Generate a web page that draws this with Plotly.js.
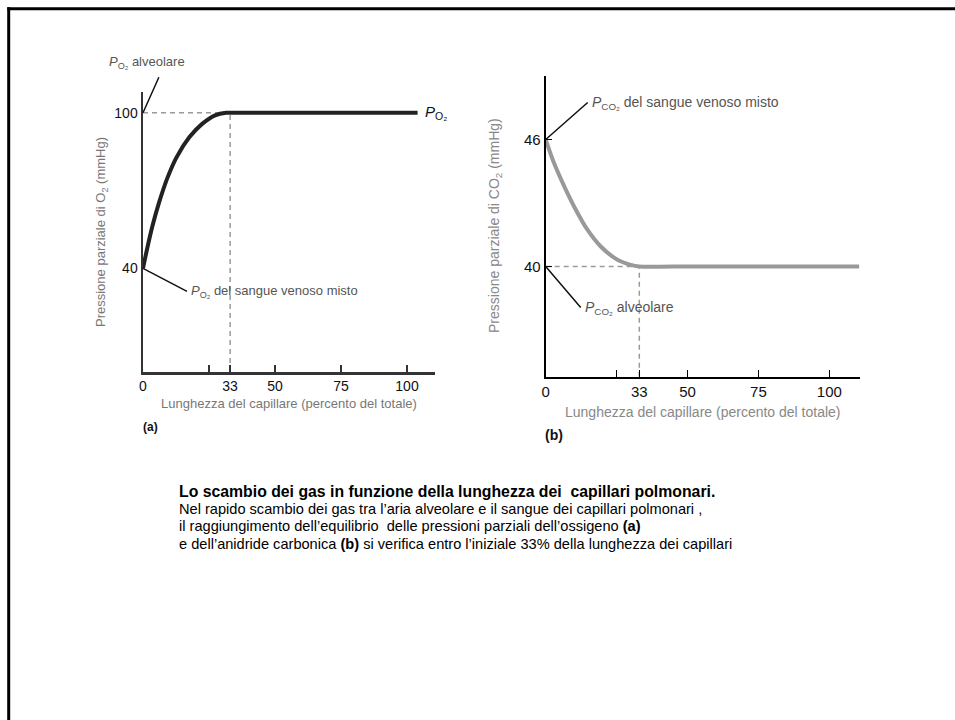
<!DOCTYPE html>
<html>
<head>
<meta charset="utf-8">
<script src="https://cdn.plot.ly/plotly-3.0.1.min.js"></script>
<style>
html,body{margin:0;padding:0;background:#fff;}
#chart{width:955px;height:720px;}
</style>
</head>
<body>
<div id="chart"></div>
<script>
// ---- Data ----
// (a) O2 partial pressure along the capillary
const o2X = [0, 1.8, 3.6, 6.1, 9.1, 12.7, 17.6, 22.4, 27.3, 31.5, 33, 45, 104];
const o2Y = [40, 48.6, 56.4, 65.4, 74.5, 82.8, 90.6, 95.7, 99, 100, 100, 100, 100];
// (b) CO2 partial pressure along the capillary
const co2X = [0, 2.9, 6.5, 10, 14.7, 19.4, 25.3, 30, 33, 45, 110.5];
const co2Y = [46, 44.9, 43.8, 42.84, 41.74, 40.95, 40.32, 40.08, 40, 40, 40];

const equilibX = 33;          // % of capillary length where equilibrium is reached
const o2Alveolar = 100, o2Venous = 40;
const co2Venous = 46, co2Alveolar = 40;

const xTickVals = [0, 33, 50, 75, 100];
const xTickText = ['0', '33', '50', '75', '100'];
const xMinorTicks = [25];
const o2TickVals = [40, 100];
const co2TickVals = [40, 46];

const xTitle = 'Lunghezza del capillare (percento del totale)';
const o2YTitle = 'Pressione parziale di O<sub>2</sub> (mmHg)';
const co2YTitle = 'Pressione parziale di CO<sub>2</sub> (mmHg)';

const captionBold = 'Lo scambio dei gas in funzione della lunghezza dei  capillari polmonari.';
const captionLines = [
  'Nel rapido scambio dei gas tra l’aria alveolare e il sangue dei capillari polmonari ,',
  'il raggiungimento dell’equilibrio  delle pressioni parziali dell’ossigeno <b>(a)</b>',
  'e dell’anidride carbonica <b>(b)</b> si verifica entro l’iniziale 33% della lunghezza dei capillari'
];

// ---- helpers: pixel -> paper ----
const W = 955, H = 720;
const px = v => v / W;
const py = v => 1 - v / H;
const FONT = 'Liberation Sans, Arial, sans-serif';

const dashStyle = {color: '#9a9a9a', width: 1.5, dash: '5px,4px'};

const traces = [
  // (a) dashed guides
  {x: [0, equilibX], y: [o2Alveolar, o2Alveolar], xaxis: 'x', yaxis: 'y', mode: 'lines', line: dashStyle, hoverinfo: 'skip'},
  {x: [equilibX, equilibX], y: [0, o2Alveolar], xaxis: 'x', yaxis: 'y', mode: 'lines', line: dashStyle, hoverinfo: 'skip'},
  // (a) curve
  {x: o2X, y: o2Y, xaxis: 'x', yaxis: 'y', mode: 'lines', line: {color: '#222', width: 4, shape: 'spline', smoothing: 0.8}},
  // (b) dashed guides
  {x: [0, equilibX], y: [co2Alveolar, co2Alveolar], xaxis: 'x2', yaxis: 'y2', mode: 'lines', line: dashStyle, hoverinfo: 'skip'},
  {x: [equilibX, equilibX], y: [34.8, co2Alveolar], xaxis: 'x2', yaxis: 'y2', mode: 'lines', line: dashStyle, hoverinfo: 'skip'},
  // (b) curve
  {x: co2X, y: co2Y, xaxis: 'x2', yaxis: 'y2', mode: 'lines', line: {color: '#999', width: 4, shape: 'spline', smoothing: 0.8}}
];

function xAxisBase(color) {
  return {
    showgrid: false, zeroline: false, showline: true, mirror: false,
    ticks: 'inside', ticklen: 7, tickwidth: 1.5, tickcolor: color,
    tickmode: 'array', tickvals: xTickVals, ticktext: xTickText,
    minor: {tickmode: 'array', tickvals: xMinorTicks, ticks: 'inside', ticklen: 7, tickwidth: 1.5, tickcolor: color, showgrid: false},
    fixedrange: true
  };
}

const layout = {
  width: W, height: H,
  margin: {l: 0, r: 0, t: 0, b: 0},
  paper_bgcolor: '#fff', plot_bgcolor: 'rgba(0,0,0,0)',
  showlegend: false,
  font: {family: FONT, color: '#000'},
  xaxis: Object.assign(xAxisBase('#333'), {
    domain: [px(143), px(435)], range: [0, 110.6], anchor: 'y',
    linecolor: '#333', linewidth: 2.5,
    tickfont: {size: 14, color: '#111'}
  }),
  yaxis: {
    domain: [py(372), py(92)], range: [0, 108], anchor: 'x',
    showgrid: false, zeroline: false, showline: true,
    linecolor: '#333', linewidth: 2.5, ticks: '',
    tickvals: o2TickVals, tickfont: {size: 14, color: '#111'}, fixedrange: true
  },
  xaxis2: Object.assign(xAxisBase('#000'), {
    domain: [px(545.7), px(860)], range: [0, 110.8], anchor: 'y2',
    linecolor: '#000', linewidth: 2,
    tickfont: {size: 15, color: '#111'}
  }),
  yaxis2: {
    domain: [py(376.7), py(76)], range: [34.8, 49.0], anchor: 'x2',
    showgrid: false, zeroline: false, showline: true,
    linecolor: '#000', linewidth: 2, ticks: 'inside', ticklen: 6, tickwidth: 1.5, tickcolor: '#000',
    tickvals: co2TickVals, tickfont: {size: 15, color: '#111'}, fixedrange: true
  },
  shapes: [
    // slide frame
    {type: 'line', xref: 'paper', yref: 'paper', x0: px(8.7), x1: px(8.7), y0: py(7.3), y1: 0, line: {color: '#000', width: 3}},
    {type: 'line', xref: 'paper', yref: 'paper', x0: px(7.3), x1: 1, y0: py(8.7), y1: py(8.7), line: {color: '#000', width: 3}}
  ],
  annotations: []
};

const A = layout.annotations;
const arrowStyle = {showarrow: true, arrowhead: 0, arrowwidth: 1.5, arrowcolor: '#111', standoff: 0, startstandoff: 0};

// labels whose leader line starts at the text's left edge, pointing at the value
function pointer(xr, yr, xv, yv, ax, ay, text, size) {
  A.push(Object.assign({xref: xr, yref: yr, x: xv, y: yv, ax: ax, ay: ay, xanchor: 'left', yanchor: 'middle',
    text: text, borderpad: 3, font: {family: FONT, size: size, color: '#555'}}, arrowStyle));
}
pointer('x', 'y', 0, o2Venous, 44, 23, '<i>P</i><sub>O₂</sub> del sangue venoso misto', 13);
pointer('x2', 'y2', 0, co2Venous, 42, -37, '<i>P</i><sub>CO₂</sub> del sangue venoso misto', 14);
pointer('x2', 'y2', 0, co2Alveolar, 35, 41, '<i>P</i><sub>CO₂</sub> alveolare', 14);

// alveolar O2: label sits above the leader
A.push(Object.assign({xref: 'x', yref: 'y', x: 0, y: o2Alveolar, ax: 17, ay: -38, text: ' ', font: {size: 2}}, arrowStyle));
A.push({xref: 'paper', yref: 'paper', x: px(107), y: py(62), xanchor: 'left', yanchor: 'middle', showarrow: false,
  text: '<i>P</i><sub>O₂</sub> alveolare', font: {family: FONT, size: 13, color: '#555'}});

// end label of the O2 curve
A.push({xref: 'x', yref: 'y', x: o2X[o2X.length - 1], y: o2Alveolar, xanchor: 'left', yanchor: 'middle', xshift: 5, showarrow: false,
  text: '<i>P</i><sub>O₂</sub>', font: {family: FONT, size: 15, color: '#111'}});

// axis titles
A.push({xref: 'paper', yref: 'paper', x: px(289), y: py(403), xanchor: 'center', yanchor: 'middle', showarrow: false,
  text: xTitle, font: {family: FONT, size: 13, color: '#777'}});
A.push({xref: 'paper', yref: 'paper', x: px(703), y: py(411.5), xanchor: 'center', yanchor: 'middle', showarrow: false,
  text: xTitle, font: {family: FONT, size: 14, color: '#888'}});
A.push({xref: 'paper', yref: 'paper', x: px(102), y: py(232), xanchor: 'center', yanchor: 'middle', showarrow: false, textangle: -90,
  text: o2YTitle, font: {family: FONT, size: 13, color: '#777'}});
A.push({xref: 'paper', yref: 'paper', x: px(495), y: py(226), xanchor: 'center', yanchor: 'middle', showarrow: false, textangle: -90,
  text: co2YTitle, font: {family: FONT, size: 14, color: '#888'}});

// panel letters
A.push({xref: 'paper', yref: 'paper', x: px(141), y: py(427), xanchor: 'left', yanchor: 'middle', showarrow: false,
  text: '<b>(a)</b>', font: {family: FONT, size: 12, color: '#111'}});
A.push({xref: 'paper', yref: 'paper', x: px(543), y: py(435), xanchor: 'left', yanchor: 'middle', showarrow: false,
  text: '<b>(b)</b>', font: {family: FONT, size: 14, color: '#111'}});

// caption
A.push({xref: 'paper', yref: 'paper', x: px(177), y: py(491), xanchor: 'left', yanchor: 'middle', showarrow: false,
  text: '<b>' + captionBold + '</b>', font: {family: FONT, size: 15.8, color: '#000'}});
captionLines.forEach((t, i) => {
  A.push({xref: 'paper', yref: 'paper', x: px(177), y: py(508.5 + i * 17.5), xanchor: 'left', yanchor: 'middle', showarrow: false,
    text: t, font: {family: FONT, size: 14.6, color: '#000'}});
});

Plotly.newPlot('chart', traces, layout, {displayModeBar: false, staticPlot: true});
</script>
</body>
</html>
